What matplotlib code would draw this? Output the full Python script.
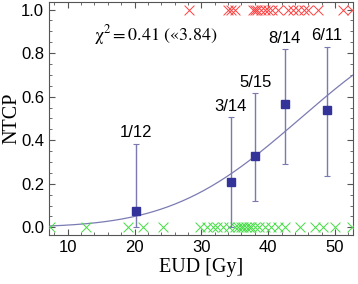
import math
import numpy as np
import matplotlib
matplotlib.use("Agg")
import matplotlib.pyplot as plt
from matplotlib.ticker import MultipleLocator

# binned data
eud_bins = [20.2, 34.4, 38.1, 42.5, 48.8]
ntcp_obs = [0.075, 0.21, 0.327, 0.567, 0.54]
err_lo = [0.0, 0.0, 0.12, 0.29, 0.235]
err_hi = [0.385, 0.507, 0.617, 0.82, 0.83]
bin_labels = ["1/12", "3/14", "5/15", "8/14", "6/11"]

# individual patients
eud_comp = [28.2, 34.0, 34.5, 35.0, 37.7, 38.1, 38.4, 38.9, 39.5, 40.0, 40.6, 41.5,
            43.0, 43.7, 44.5, 45.3, 46.0, 47.5, 51.2, 52.5]
eud_nocomp = [7.3, 12.8, 19.0, 21.2, 24.2, 29.8, 30.8, 31.7, 32.4, 33.2, 34.2, 35.0,
              35.5, 35.9, 36.3, 36.7, 37.1, 37.5, 38.0, 38.7, 39.5, 40.5, 41.4, 42.5,
              44.8, 47.0, 48.2, 50.0, 52.5]

# LKB fit parameters
td50 = 44.8
m = 0.337

fig = plt.figure(figsize=(3.58, 2.84), dpi=100)
ax = fig.add_axes([0.137, 0.1725, 0.849, 0.8205])

x = np.linspace(7, 53, 300)
y = [0.5 * (1 + math.erf((v - td50) / (m * td50) / math.sqrt(2))) for v in x]
ax.plot(x, y, color="#7b7bb3", lw=0.9)

ax.scatter(eud_comp, [1.0] * len(eud_comp), marker="x", color="#ff4040", s=50, lw=0.7, zorder=3)
ax.scatter(eud_nocomp, [0.0] * len(eud_nocomp), marker="x", color="#44dd44", s=50, lw=0.7, zorder=3)

yerr = [np.array(ntcp_obs) - np.array(err_lo), np.array(err_hi) - np.array(ntcp_obs)]
ax.errorbar(eud_bins, ntcp_obs, yerr=yerr, fmt="s", color="#333399", ms=6,
            ecolor="#7a7ab0", elinewidth=1.0, capsize=2, capthick=0.8, zorder=4)
for xi, hi, lab in zip(eud_bins, err_hi, bin_labels):
    ax.text(xi, hi + 0.015, lab, ha="center", va="bottom", fontsize=12, family="Liberation Sans")

ax.text(14.0, 0.86, r"$\mathrm{χ^{2} = 0.41\ («3.84)}$", fontsize=13,
        math_fontfamily="stix")

ax.set_xlim(7.2, 52.7)
ax.set_ylim(-0.035, 1.035)
ax.xaxis.set_major_locator(MultipleLocator(10))
ax.xaxis.set_minor_locator(MultipleLocator(2))
ax.yaxis.set_major_locator(MultipleLocator(0.2))
ax.yaxis.set_minor_locator(MultipleLocator(0.05))
ax.yaxis.set_major_formatter(matplotlib.ticker.FormatStrFormatter("%.1f"))
ax.tick_params(which="both", direction="in", top=True, right=True, labelsize=12, color="#555555")
ax.tick_params(which="major", length=4)
ax.tick_params(which="minor", length=2)
for lab in ax.get_xticklabels() + ax.get_yticklabels():
    lab.set_family("Liberation Sans")
for s in ax.spines.values():
    s.set_color("#555555")

ax.set_xlabel("EUD [Gy]", family="Liberation Serif", fontsize=14.5, labelpad=2)
ax.set_ylabel("NTCP", family="Liberation Serif", fontsize=14.5, labelpad=0)

fig.savefig("out.png", dpi=100)
